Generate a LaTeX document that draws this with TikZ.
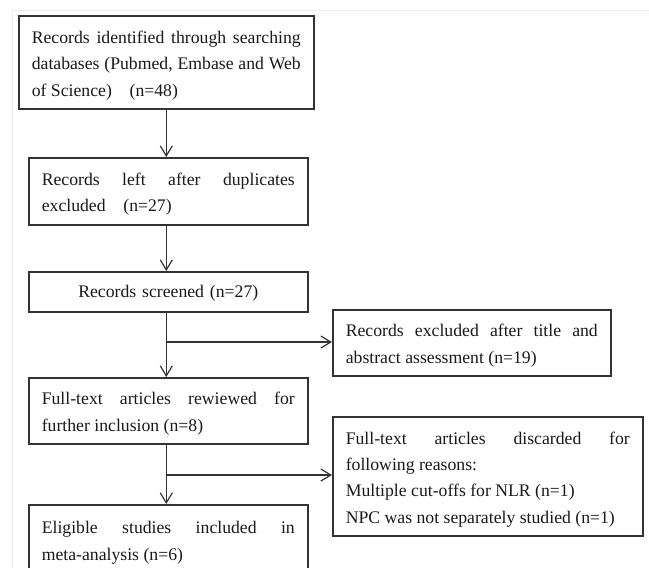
\documentclass[tikz,border=0pt]{standalone}
\usepackage{fontspec}
\setmainfont{Liberation Serif}
\usetikzlibrary{arrows.meta}
\setlength{\parindent}{0pt}
\newcommand\myboxend{\par\vspace*{-6pt}}
\begin{document}
\begin{tikzpicture}[x=1pt,y=-1pt,
  box/.style={draw=black!80, line width=1.6pt, anchor=north west, inner xsep=13pt, inner ysep=0pt,
    align=justify, font=\fontsize{17.7}{26.4}\selectfont, text=black!90,
    execute at end node=\myboxend},
  conn/.style={line width=1.2pt, draw=black!80, -{Straight Barb[length=10pt,width=12pt,line width=1.2pt]}}]
\useasboundingbox (0,0) rectangle (649,568);
\draw[black!7, line width=1pt] (12,580) -- (12,10) -- (660,10);

\node[box, text width=269pt, minimum height=93pt] (b1) at (18,15)
  {Records identified through searching\linebreak databases (Pubmed, Embase and Web\linebreak of Science)\quad (n=48)};
\node[box, text width=253pt, minimum height=67pt] (b2) at (28,157)
  {Records left after duplicates\linebreak excluded\quad (n=27)};
\node[box, text width=253pt, minimum height=40pt, align=center] (b3) at (28,271)
  {Records screened (n=27)};
\node[box, text width=252pt, minimum height=66pt] (r1) at (332,309)
  {Records excluded after title and\linebreak abstract assessment (n=19)};
\node[box, text width=253pt, minimum height=66pt] (b4) at (28,377)
  {Full-text articles rewiewed for\linebreak further inclusion (n=8)};
\node[box, text width=284pt, minimum height=119pt] (r2) at (332,416)
  {Full-text articles discarded for\linebreak following reasons:\par Multiple cut-offs for NLR (n=1)\par NPC was not separately studied (n=1)};
\node[box, text width=253pt, minimum height=70pt] (b5) at (28,504)
  {Eligible studies included in\linebreak meta-analysis (n=6)};

\coordinate (j1) at (165.5,342);
\coordinate (j2) at (165.5,475);
\draw[conn] (b1.south) -- (b1.south |- b2.north);
\draw[conn] (b1.south |- b2.south) -- (b1.south |- b3.north);
\draw[conn] (b1.south |- b3.south) -- (b1.south |- b4.north);
\draw[conn] (j1) -- (j1 -| r1.west);
\draw[conn] (b1.south |- b4.south) -- (b1.south |- b5.north);
\draw[conn] (j2) -- (j2 -| r2.west);
\end{tikzpicture}
\end{document}
